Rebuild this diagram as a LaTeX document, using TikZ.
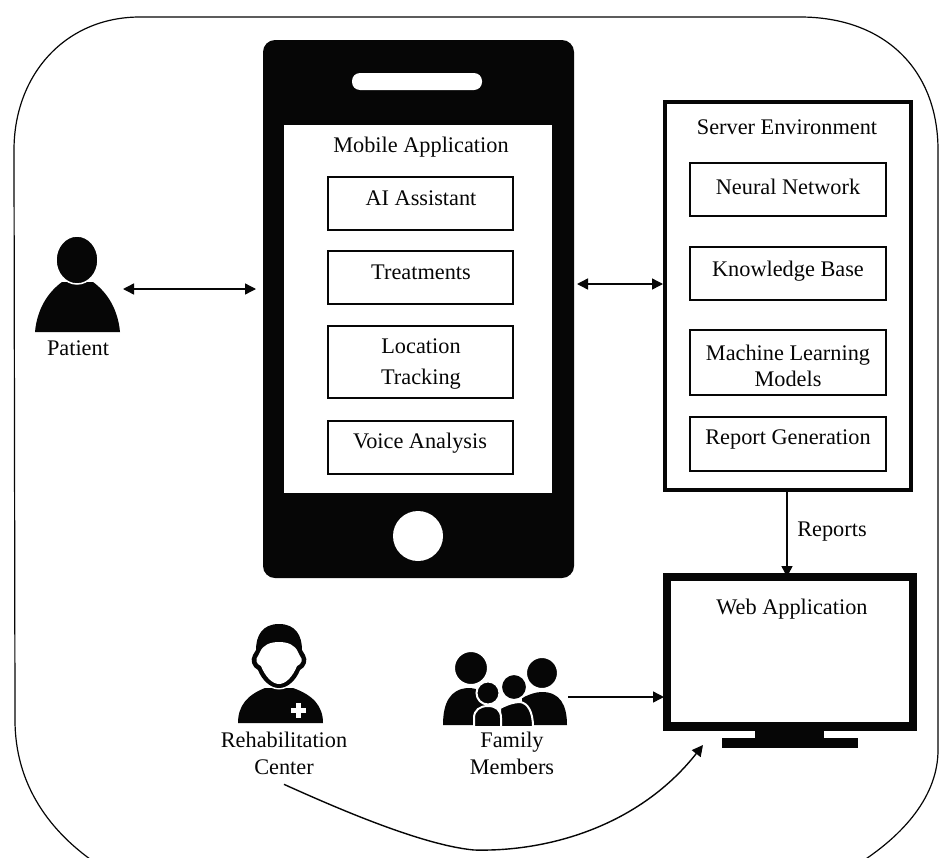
\documentclass[tikz,border=0pt]{standalone}
\usepackage{fontspec}
\setmainfont{Liberation Serif}
\usetikzlibrary{arrows.meta}
\definecolor{ink}{HTML}{060606}
\tikzset{
  base/.style={inner sep=0pt,outer sep=0pt},
  lbl/.style={base,text=ink,align=center,font=\fontsize{22.3}{27}\selectfont},
  inbox/.style={base,draw=ink,line width=1.1pt,fill=white},
  ghost/.style={base},
  conn/.style={draw=ink,line width=1.4pt,-{Triangle[length=11pt,width=11pt]}},
  dconn/.style={draw=ink,line width=1.4pt,{Triangle[length=11pt,width=11pt]}-{Triangle[length=11pt,width=11pt]}},
  gap/.style={draw=white,line width=2pt,fill=ink}
}
\begin{document}
\begin{tikzpicture}[x=1pt,y=-1pt]
\useasboundingbox (0,0) rectangle (940,857);
\fill[white] (0,0) rectangle (940,857);
% outer frame
\begin{scope}
\clip (0,0) rectangle (940,857);
\draw[ink,line width=1.2pt] (140,17) -- (800,17)
  .. controls (885,17) and (938,70) .. (938,150) -- (938,750)
  .. controls (938,795) and (905,835) .. (855,866) -- (100,866)
  .. controls (50,833) and (15,785) .. (15,720) -- (14,150)
  .. controls (14,75) and (65,17) .. (140,17) -- cycle;
\end{scope}
% phone
\node[base,fill=ink,rounded corners=12pt,minimum width=311pt,minimum height=538pt] (phone) at (418.5,309) {};
\node[base,fill=white,minimum width=268pt,minimum height=368pt] (screen) at (418,309) {};
\fill[white,rounded corners=8pt] (352,73) rectangle (482,90);
\fill[white] (418,536) circle (25);
\node[lbl] (mobtitle) at (421,147.5) {Mobile Application};
\node[inbox,minimum width=185pt,minimum height=53pt] (ai) at (420.5,203.5) {};
\node[lbl] (aitext) at (421,198.5) {AI Assistant};
\node[inbox,minimum width=185pt,minimum height=53pt] (treat) at (420.5,277.5) {};
\node[lbl] (treattext) at (421,272.5) {Treatments};
\node[inbox,minimum width=185pt,minimum height=72pt] (loc) at (420.5,362) {};
\node[lbl,font=\fontsize{22.3}{31}\selectfont] (loctext) at (421,364) {Location\\Tracking};
\node[inbox,minimum width=185pt,minimum height=53pt] (voice) at (420.5,447.5) {};
\node[lbl] (voicetext) at (420,443.5) {Voice Analysis};
% server
\node[base,draw=ink,line width=4pt,fill=white,minimum width=246pt,minimum height=388pt] (server) at (788,296) {};
\node[lbl] (srvtitle) at (787,127.5) {Server Environment};
\node[inbox,minimum width=196pt,minimum height=53pt] (nn) at (788,189.5) {};
\node[lbl] (nntext) at (788,186.5) {Neural Network};
\node[inbox,minimum width=196pt,minimum height=53pt] (kb) at (788,273.5) {};
\node[lbl] (kbtext) at (788,271.5) {Knowledge Base};
\node[inbox,minimum width=196pt,minimum height=65pt] (ml) at (788,362.5) {};
\node[lbl,font=\fontsize{22.3}{25.5}\selectfont] (mltext) at (788,366) {Machine Learning\\Models};
\node[inbox,minimum width=196pt,minimum height=54pt] (rg) at (788,444) {};
\node[lbl] (rgtext) at (788,439.5) {Report Generation};
% monitor
\fill[ink] (755,728) rectangle (824,742);
\node[base,fill=ink,minimum width=136pt,minimum height=10pt] (stand) at (790,743) {};
\node[base,draw=ink,line width=8pt,fill=white,minimum width=246pt,minimum height=149pt] (web) at (790,651.5) {};
\fill[ink] (663,722) rectangle (917,731);
\node[lbl] (webtitle) at (792,609.5) {Web Application};
% patient
\node[ghost,minimum width=85pt,minimum height=86pt] (patienticon) at (77.5,289) {};
\fill[ink] (35,332) .. controls (37,310) and (47,293) .. (62,282) -- (93,282) .. controls (108,293) and (118,310) .. (120,332) -- cycle;
\draw[white,line width=1.5pt,fill=ink] (77,260) ellipse (21 and 24);
\node[lbl] (patient) at (78,348) {Patient};
% rehabilitation icon
\node[ghost,minimum width=85pt,minimum height=99pt] (rehabicon) at (280,673) {};
\fill[ink] (238,723) .. controls (238,706) and (247,695) .. (265,688) -- (293,688) .. controls (313,695) and (323,706) .. (323,723) -- cycle;
\draw[white,line width=3pt,fill=ink] (279,624) .. controls (262,624) and (256,636) .. (256,650)
  -- (253,655) .. controls (250,660) and (252,667) .. (258,670) .. controls (262,680) and (270,688) .. (279,688)
  .. controls (288,688) and (296,680) .. (300,670) .. controls (306,667) and (308,660) .. (305,655)
  -- (302,650) .. controls (302,636) and (296,624) .. (279,624) -- cycle;
\fill[ink] (279,624) .. controls (262,624) and (256,636) .. (256,650)
  -- (253,655) .. controls (250,660) and (252,667) .. (258,670) .. controls (262,680) and (270,688) .. (279,688)
  .. controls (288,688) and (296,680) .. (300,670) .. controls (306,667) and (308,660) .. (305,655)
  -- (302,650) .. controls (302,636) and (296,624) .. (279,624) -- cycle;
\fill[white] (279,642) .. controls (270,642) and (263,645) .. (260,652)
  -- (258,656) .. controls (255,659) and (256,664) .. (261,666) .. controls (265,676) and (272,684) .. (279,684)
  .. controls (286,684) and (293,676) .. (297,666) .. controls (302,664) and (303,659) .. (300,656)
  -- (298,652) .. controls (295,645) and (288,642) .. (279,642) -- cycle;
\fill[white] (295.5,702.5) rectangle (300.5,717.5);
\fill[white] (290.5,707.5) rectangle (305.5,712.5);
\node[lbl,inner ysep=10pt,font=\fontsize{22.3}{27}\selectfont] (rehab) at (284,753) {Rehabilitation\\Center};
% family icon
\node[ghost,minimum width=125pt,minimum height=74pt] (familyicon) at (505.5,689) {};
\fill[ink] (443,725) .. controls (443,703) and (450,689) .. (468,688) .. controls (478,688) and (484,692) .. (488,700) -- (488,725) -- cycle;
\fill[ink] (567,725) .. controls (567,705) and (560,692) .. (542,692) .. controls (536,692) and (530,694) .. (522,698) -- (522,725) -- cycle;
\draw[gap] (471,668) circle (17);
\draw[gap] (542,673) circle (16);
\draw[gap] (500,727) -- (500,708) .. controls (508,704) and (514,702) .. (520,702) .. controls (528,703) and (533,712) .. (533,727) -- cycle;
\draw[gap] (474,727) -- (474,718) .. controls (474,710) and (480,706) .. (488,706) .. controls (496,706) and (501,710) .. (501,718) -- (501,727) -- cycle;
\draw[gap] (488,693) circle (11.5);
\draw[gap] (514,687) circle (13);
\fill[white] (440,725.5) rectangle (572,731);
\node[lbl] (family) at (512,753) {Family\\Members};
% reports label
\node[lbl] (reports) at (832,531.5) {Reports};
% connectors
\coordinate (ya) at (620,284);
\coordinate (yb) at (620,697);
\coordinate (xr) at (787,530);
\coordinate (curveend) at (703,745);
\coordinate (curvemid) at (474,850);
\draw[dconn,shorten <=3pt,shorten >=7pt] (patienticon.east) -- (patienticon -| phone.west);
\draw[dconn,shorten <=3pt,shorten >=2pt] (phone.east |- ya) -- (server.west |- ya);
\draw[conn] (server.south -| xr) -- (web.north -| xr);
\draw[conn,shorten >=3pt] (familyicon.east |- yb) -- (web.west |- yb);
\draw[conn] (rehab.south) .. controls (330,805) and (420,845) .. (curvemid) .. controls (550,852) and (640,825) .. (curveend);
\end{tikzpicture}
\end{document}
